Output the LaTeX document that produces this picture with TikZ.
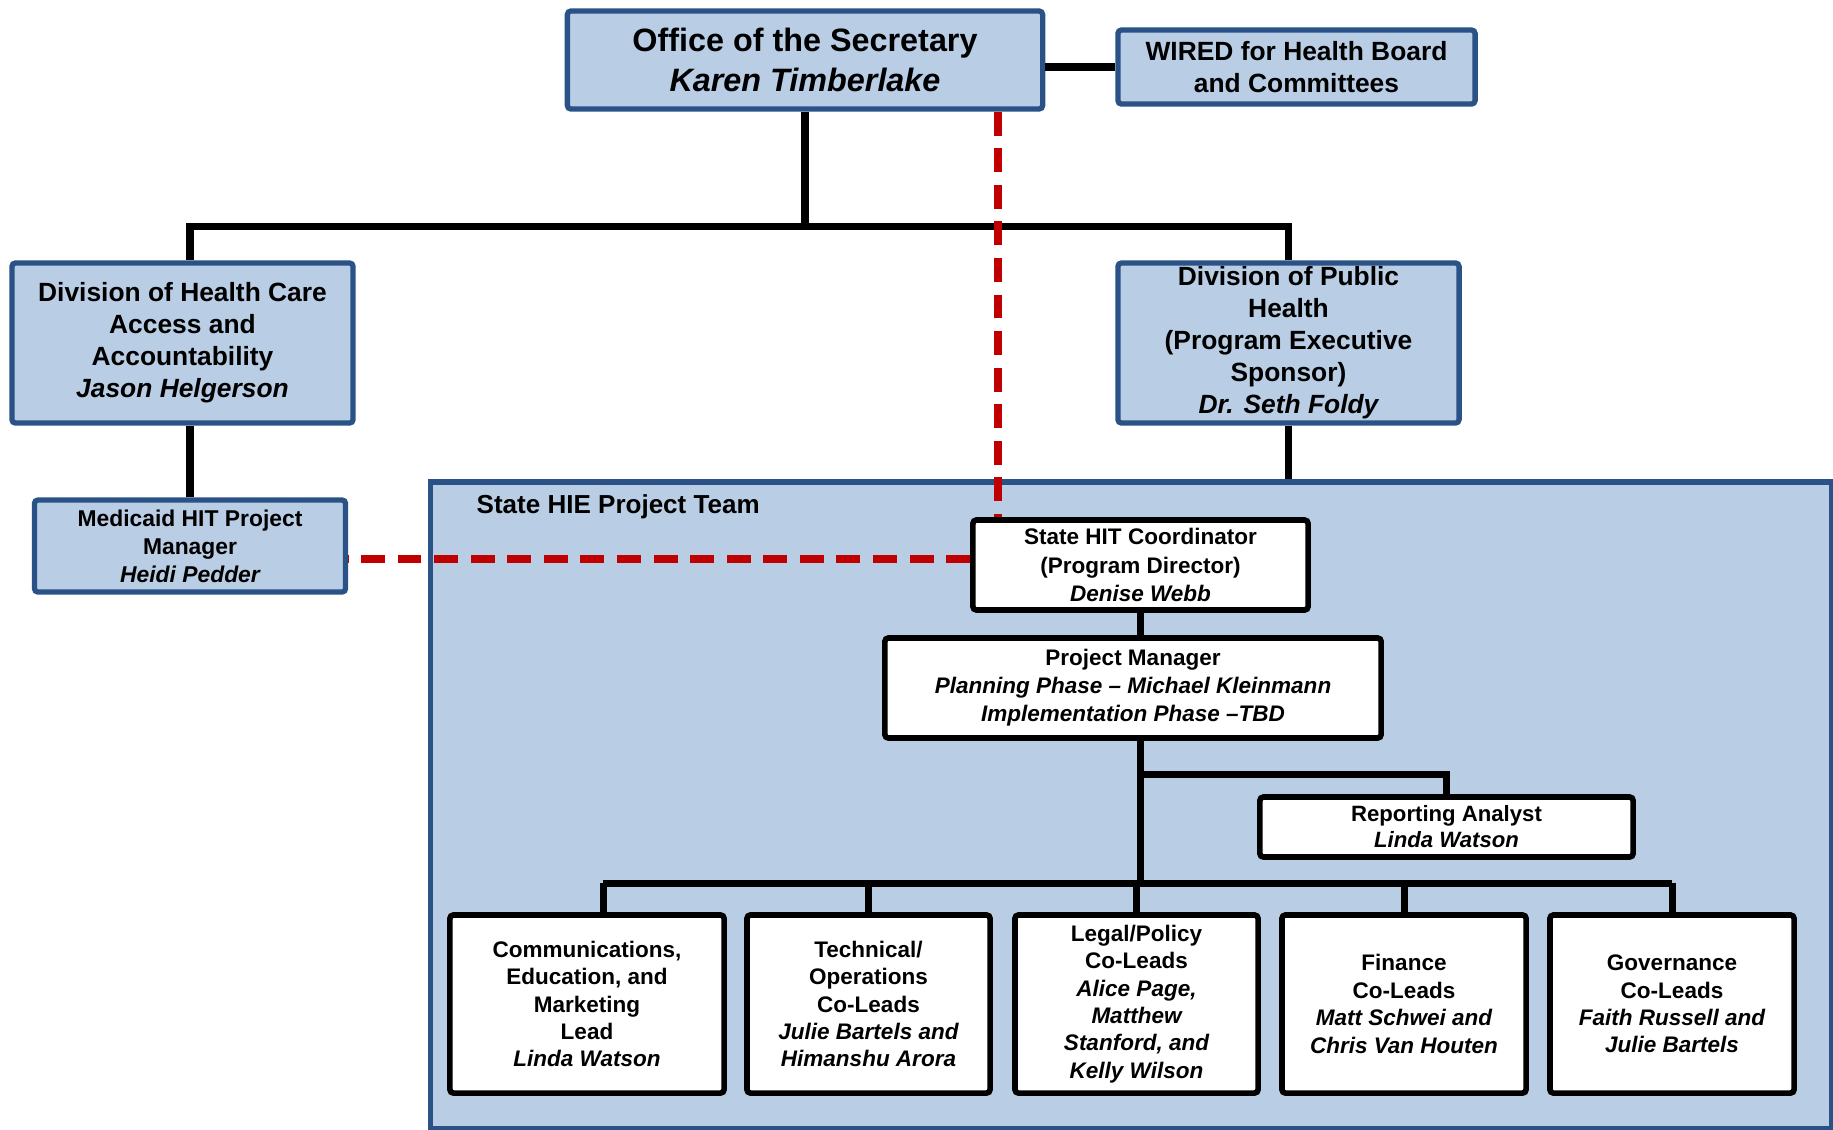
\documentclass[tikz,border=0pt]{standalone}
\usepackage{fontspec}
\setmainfont{Liberation Sans}
\usetikzlibrary{calc}

\definecolor{boxblue}{HTML}{B9CDE5}
\definecolor{edgeblue}{HTML}{2A5286}
\definecolor{linkred}{HTML}{C00000}

\tikzset{
  headbox/.style={draw=edgeblue, fill=boxblue, line width=1.5pt, rounded corners=1pt,
    align=center, inner sep=0pt, font=\bfseries\fontsize{7.5}{9.1}\selectfont},
  teambox/.style={draw=black, fill=white, line width=1.6pt, rounded corners=1pt,
    align=center, inner sep=0pt, font=\bfseries\fontsize{6.4}{7.8}\selectfont},
  tie/.style={line width=2pt},
  reportline/.style={draw=linkred, line width=2.2pt, dash pattern=on 6.8pt off 3.6pt}
}

\begin{document}
\begin{tikzpicture}[x=0.01cm, y=-0.01cm]
\useasboundingbox (0,0) rectangle (1833,1129);

%team area
\node[draw=edgeblue, fill=boxblue, line width=1.6pt, minimum width=14.00cm, minimum height=6.47cm, inner sep=0pt] (team) at (1131,805.5) {};
\node[anchor=west, inner sep=0pt, font=\bfseries\fontsize{7.4}{9}\selectfont] (teamlabel) at (476,507) {State HIE Project Team};

%bus levels
\coordinate (topbus) at (0,226);
\coordinate (repbranch) at (0,774);
\coordinate (lowbus) at (0,883);
\coordinate (redx) at (998,0);
\coordinate (redy) at (0,559);

%upper boxes
\node[headbox, minimum width=4.75cm, minimum height=0.98cm, font=\bfseries\fontsize{9.2}{11.3}\selectfont] (office) at (805,60) {Office of the Secretary\\\itshape Karen Timberlake};
\node[headbox, minimum width=3.57cm, minimum height=0.74cm] (wired) at (1296.5,67) {WIRED for Health Board\\and Committees};
\node[headbox, minimum width=3.41cm, minimum height=1.60cm] (hca) at (182.5,343) {Division of Health Care\\Access and\\Accountability\\\itshape Jason Helgerson};
\node[headbox, minimum width=3.41cm, minimum height=1.60cm] (ph) at (1288.5,343) {Division of Public\\Health\\(Program Executive\\Sponsor)\\\itshape Dr. Seth Foldy};
\node[headbox, minimum width=3.11cm, minimum height=0.92cm, font=\bfseries\fontsize{6.5}{8}\selectfont] (medicaid) at (190,546) {Medicaid HIT Project\\Manager\\\itshape Heidi Pedder};

%project team
\node[teambox, minimum width=3.35cm, minimum height=0.90cm, font=\bfseries\fontsize{6.4}{8}\selectfont] (coord) at (1140.5,565) {State HIT Coordinator\\(Program Director)\\\itshape Denise Webb};
\node[teambox, minimum width=4.96cm, minimum height=1.00cm, font=\bfseries\fontsize{6.4}{8}\selectfont] (pm) at (1133,688) {Project Manager\\{\itshape Planning Phase – Michael Kleinmann}\\\itshape Implementation Phase –TBD};
\node[teambox, minimum width=3.73cm, minimum height=0.60cm, font=\bfseries\fontsize{6.3}{7.4}\selectfont] (rep) at (1446.5,827) {Reporting Analyst\\\itshape Linda Watson};
\node[teambox, minimum width=2.74cm, minimum height=1.78cm] (comm) at (587,1004) {Communications,\\Education, and\\Marketing\\Lead\\\itshape Linda Watson};
\node[teambox, minimum width=2.43cm, minimum height=1.78cm] (tech) at (868.5,1004) {Technical/\\Operations\\Co-Leads\\\itshape Julie Bartels and\\\itshape Himanshu Arora};
\node[teambox, minimum width=2.43cm, minimum height=1.78cm] (legal) at (1136.5,1004) {Legal/Policy\\Co-Leads\\\itshape Alice Page,\\\itshape Matthew\\\itshape Stanford, and\\\itshape Kelly Wilson};
\node[teambox, minimum width=2.44cm, minimum height=1.78cm] (fin) at (1404,1004) {Finance\\Co-Leads\\\itshape Matt Schwei and\\\itshape Chris Van Houten};
\node[teambox, minimum width=2.44cm, minimum height=1.78cm] (gov) at (1672,1004) {Governance\\Co-Leads\\\itshape Faith Russell and\\\itshape Julie Bartels};

%solid lines
\draw[tie] (office.east |- wired.west) -- (wired.west);
\draw[tie] (office.south) -- (office.south |- topbus);
\draw[tie] (hca.north -| medicaid.north) |- (ph.north |- topbus) -- (ph.north);
\draw[tie] (medicaid.north) -- (medicaid.north |- hca.south);
\draw[tie] (ph.south) -- (ph.south |- team.north);
\draw[tie] (coord.south) -- (coord.south |- pm.north);
\draw[tie] (coord.south |- pm.south) -- (coord.south |- lowbus);
\draw[tie] (coord.south |- repbranch) -| (rep.north);
\draw[tie] ([xshift=0.16cm]comm.north |- lowbus) -- (gov.north |- lowbus);
\draw[tie] ([xshift=0.16cm]comm.north) -- ([xshift=0.16cm]comm.north |- lowbus);
\foreach \b in {tech,legal,fin,gov}
  \draw[tie] (\b.north) -- (\b.north |- lowbus);

%dashed lines
\draw[reportline] (office.south -| redx) -- (coord.north -| redx);
\draw[reportline] (coord.west |- redy) -- (medicaid.east |- redy);
\end{tikzpicture}
\end{document}
